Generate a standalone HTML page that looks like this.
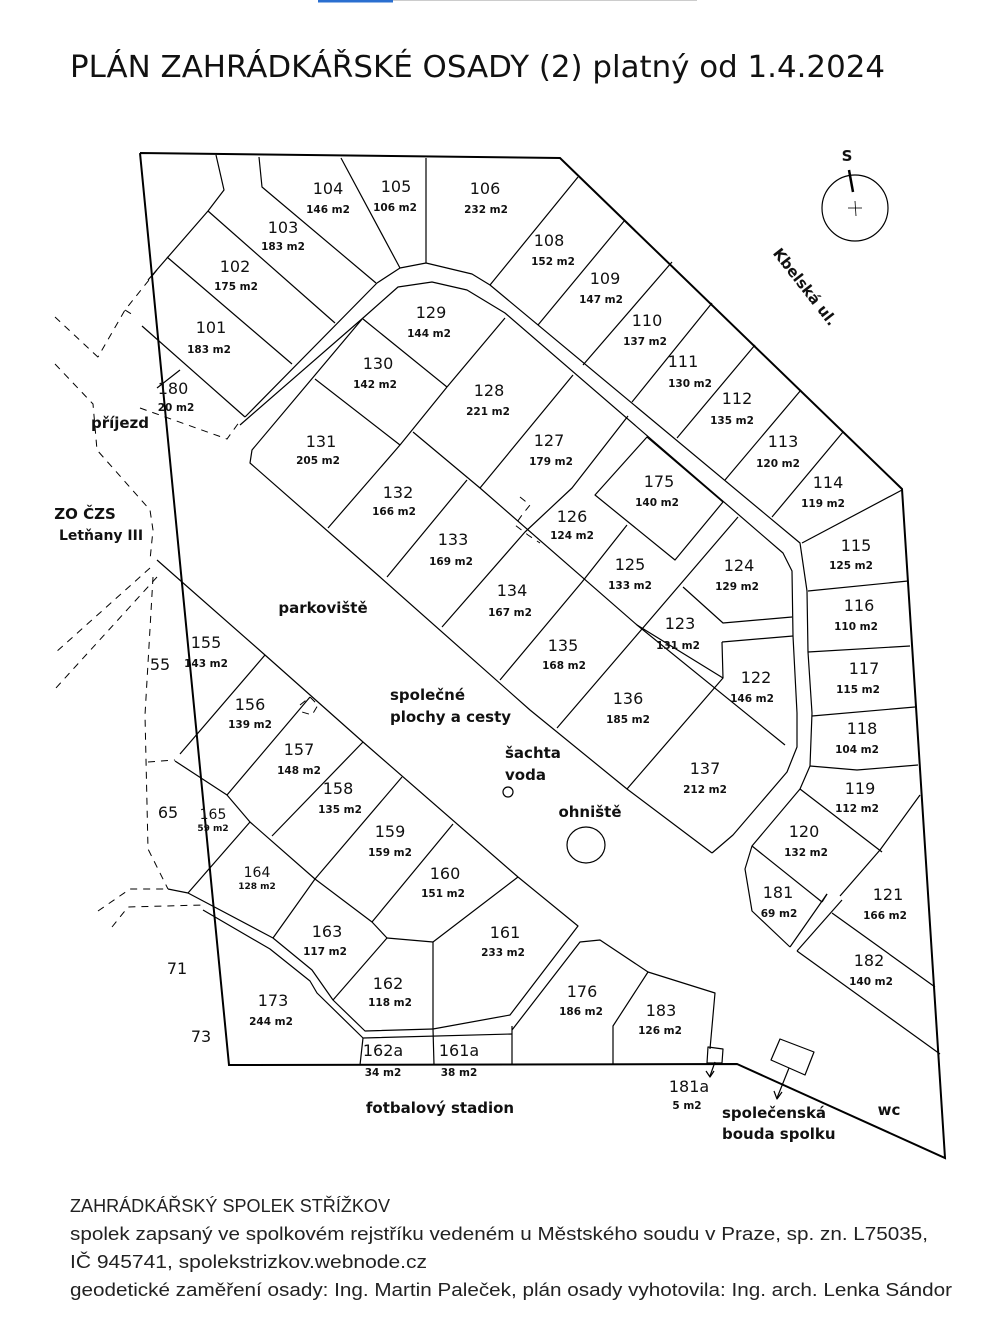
<!DOCTYPE html>
<html><head><meta charset="utf-8">
<style>
html,body{margin:0;padding:0;background:#fff;}
svg{display:block;}
text{font-family:"DejaVu Sans","Liberation Sans",sans-serif;fill:#111;}
.n{font-size:16px;text-anchor:middle;}
.a{font-size:10.5px;font-weight:bold;text-anchor:middle;}
.s{font-size:9px;font-weight:bold;text-anchor:middle;}
.l{font-size:15px;font-weight:bold;}
.f{font-family:"Liberation Sans",sans-serif;font-size:18px;fill:#222;}
</style></head><body>
<svg width="1008" height="1344" viewBox="0 0 1008 1344" xmlns="http://www.w3.org/2000/svg">
<line x1="318" y1="1" x2="393" y2="1" stroke="#2a6fd0" stroke-width="3"/>
<line x1="393" y1="0.5" x2="697" y2="0.5" stroke="#ccc" stroke-width="1"/>
<text x="70" y="77" style="font-size:30px" textLength="815" lengthAdjust="spacingAndGlyphs">PLÁN ZAHRÁDKÁŘSKÉ OSADY (2)  platný od 1.4.2024</text>

<g fill="none" stroke="#000" stroke-width="2">
<polyline points="140,153 560,158 902,489 945,1158 737,1064 229,1065 140,153"/>
</g>
<g fill="none" stroke="#000" stroke-width="1.2" stroke-linejoin="round">
<polyline points="216,155 224,190 208,211 148,280"/>
<polyline points="259,157 262,187 376,283"/>
<line x1="341" y1="158" x2="400" y2="268"/>
<line x1="426" y1="158" x2="426" y2="263"/>
<line x1="208" y1="211" x2="335" y2="323"/>
<line x1="167" y1="257" x2="292" y2="364"/>
<line x1="142" y1="326" x2="245" y2="417"/>
<polyline points="157,388 180,370"/>
<polyline points="245,417 377,283 400,268 426,263 472,274 490,285 800,543 807,591 808,652 812,713 810,766 800,789 752,846 745,869 752,911 790,947"/>
<polyline points="240,425 363,318 398,287 432,282 467,290 505,313 783,553 792,571 793,636 797,713 797,747 787,772 733,835 712,853"/>
<polyline points="363,318 252,450 250,463 380,577 530,710 627,789 712,853"/>
<line x1="578" y1="177" x2="490" y2="285"/>
<line x1="625" y1="220" x2="538" y2="325"/>
<line x1="672" y1="262" x2="583" y2="365"/>
<line x1="712" y1="303" x2="632" y2="402"/>
<line x1="755" y1="345" x2="677" y2="438"/>
<line x1="801" y1="390" x2="725" y2="480"/>
<line x1="843" y1="432" x2="772" y2="517"/>
<line x1="902" y1="490" x2="802" y2="543"/>
<line x1="808" y1="591" x2="908" y2="581"/>
<line x1="808" y1="652" x2="910" y2="646"/>
<line x1="812" y1="716" x2="915" y2="707"/>
<polyline points="810,766 857,770 918,765"/>
<line x1="800" y1="789" x2="882" y2="852"/>
<polyline points="920,795 880,850 840,896"/>
<line x1="752" y1="846" x2="822" y2="902"/>
<line x1="827" y1="894" x2="790" y2="947"/>
<line x1="842" y1="900" x2="797" y2="951"/>
<line x1="822" y1="902" x2="827" y2="894"/>
<line x1="832" y1="913" x2="935" y2="987"/>
<line x1="797" y1="951" x2="940" y2="1054"/>
<line x1="363" y1="319" x2="447" y2="387"/>
<line x1="505" y1="318" x2="447" y2="387"/>
<polyline points="447,387 400,445 328,528"/>
<line x1="315" y1="379" x2="400" y2="445"/>
<line x1="573" y1="375" x2="480" y2="488"/>
<line x1="467" y1="480" x2="387" y2="577"/>
<polyline points="413,432 480,488 637,625 723,678"/>
<polyline points="637,625 785,745"/>
<polyline points="442,627 525,532 572,488 628,416"/>
<polyline points="500,680 582,582 627,525"/>
<polyline points="557,728 630,643 738,517"/>
<polygon points="595,495 647,437 723,502 675,560"/>
<polyline points="683,587 723,623 792,617"/>
<polyline points="722,642 793,636"/>
<polyline points="722,642 723,678 627,789"/>
<polyline points="157,560 265,655 363,742 518,877 578,926 510,1015 433,1029"/>
<line x1="433" y1="942" x2="518" y2="877"/>
<line x1="433" y1="942" x2="433" y2="1029"/>
<line x1="387" y1="938" x2="433" y2="942"/>
<line x1="265" y1="655" x2="180" y2="754"/>
<line x1="310" y1="697" x2="227" y2="795"/>
<line x1="363" y1="742" x2="272" y2="836"/>
<line x1="402" y1="777" x2="315" y2="879"/>
<line x1="453" y1="824" x2="372" y2="922"/>
<polyline points="175,761 227,795 250,822 315,879 372,922 387,938"/>
<line x1="250" y1="822" x2="188" y2="893"/>
<line x1="315" y1="879" x2="273" y2="938"/>
<line x1="387" y1="938" x2="333" y2="1000"/>
<polyline points="168,889 188,893 273,938 312,970 333,1000 365,1031 433,1029"/>
<polyline points="203,910 270,949 310,981 317,993 363,1038 512,1034"/>
<line x1="363" y1="1038" x2="360" y2="1065"/>
<line x1="433" y1="1029" x2="434" y2="1065"/>
<line x1="512" y1="1026" x2="512" y2="1065"/>
<polyline points="512,1030 580,942 600,940 648,972 715,993 710,1049"/>
<polyline points="648,972 613,1026 613,1064"/>
<polygon points="708,1047 723,1049 722,1063 707,1063"/>
<line x1="715" y1="1062" x2="710" y2="1076"/>
<polyline points="706,1071 710,1077 714,1071"/>
<polygon points="780,1039 814,1052 805,1075 771,1060"/>
<line x1="789" y1="1068" x2="777" y2="1098"/>
<polyline points="774,1091 777,1099 782,1092"/>
<circle cx="508" cy="792" r="5"/>
<ellipse cx="586" cy="845" rx="19" ry="18"/>
<circle cx="855" cy="208" r="33"/>
<line x1="849" y1="170" x2="853" y2="192" stroke-width="2.5"/>
<line x1="848" y1="208" x2="862" y2="208" stroke-width="0.8"/>
<line x1="855" y1="201" x2="856" y2="216" stroke-width="0.8"/>
</g>
<g fill="none" stroke="#000" stroke-width="1" stroke-dasharray="7,6">
<polyline points="157,270 125,310 98,357"/>
<polyline points="125,310 133,315"/>
<polyline points="55,317 100,359"/>
<polyline points="55,364 93,404 97,450 150,510 153,530 150,560"/>
<polyline points="140,408 227,439 240,421"/>
<line x1="150" y1="568" x2="55" y2="653"/>
<line x1="157" y1="577" x2="55" y2="689"/>
<polyline points="153,577 145,715 148,849 168,889"/>
<polyline points="148,762 175,760"/>
<polyline points="98,911 130,889 168,889"/>
<polyline points="112,927 128,907 203,905"/>
<polyline points="300,705 310,697 318,705 312,715 302,712"/>
<polyline points="520,497 530,505 522,515 515,525 528,535 540,543"/>
</g>

<text class="n" x="328" y="194">104</text><text class="a" x="328" y="213">146 m2</text>
<text class="n" x="396" y="192">105</text><text class="a" x="395" y="211">106 m2</text>
<text class="n" x="485" y="194">106</text><text class="a" x="486" y="213">232 m2</text>
<text class="n" x="283" y="233">103</text><text class="a" x="283" y="250">183 m2</text>
<text class="n" x="235" y="272">102</text><text class="a" x="236" y="290">175 m2</text>
<text class="n" x="211" y="333">101</text><text class="a" x="209" y="353">183 m2</text>
<text class="n" x="549" y="246">108</text><text class="a" x="553" y="265">152 m2</text>
<text class="n" x="605" y="284">109</text><text class="a" x="601" y="303">147 m2</text>
<text class="n" x="647" y="326">110</text><text class="a" x="645" y="345">137 m2</text>
<text class="n" x="683" y="367">111</text><text class="a" x="690" y="387">130 m2</text>
<text class="n" x="737" y="404">112</text><text class="a" x="732" y="424">135 m2</text>
<text class="n" x="783" y="447">113</text><text class="a" x="778" y="467">120 m2</text>
<text class="n" x="828" y="488">114</text><text class="a" x="823" y="507">119 m2</text>
<text class="n" x="856" y="551">115</text><text class="a" x="851" y="569">125 m2</text>
<text class="n" x="859" y="611">116</text><text class="a" x="856" y="630">110 m2</text>
<text class="n" x="864" y="674">117</text><text class="a" x="858" y="693">115 m2</text>
<text class="n" x="862" y="734">118</text><text class="a" x="857" y="753">104 m2</text>
<text class="n" x="860" y="794">119</text><text class="a" x="857" y="812">112 m2</text>
<text class="n" x="804" y="837">120</text><text class="a" x="806" y="856">132 m2</text>
<text class="n" x="888" y="900">121</text><text class="a" x="885" y="919">166 m2</text>
<text class="n" x="869" y="966">182</text><text class="a" x="871" y="985">140 m2</text>
<text class="n" x="778" y="898">181</text><text class="a" x="779" y="917">69 m2</text>
<text class="n" x="431" y="318">129</text><text class="a" x="429" y="337">144 m2</text>
<text class="n" x="378" y="369">130</text><text class="a" x="375" y="388">142 m2</text>
<text class="n" x="489" y="396">128</text><text class="a" x="488" y="415">221 m2</text>
<text class="n" x="321" y="447">131</text><text class="a" x="318" y="464">205 m2</text>
<text class="n" x="549" y="446">127</text><text class="a" x="551" y="465">179 m2</text>
<text class="n" x="659" y="487">175</text><text class="a" x="657" y="506">140 m2</text>
<text class="n" x="398" y="498">132</text><text class="a" x="394" y="515">166 m2</text>
<text class="n" x="572" y="522">126</text><text class="a" x="572" y="539">124 m2</text>
<text class="n" x="739" y="571">124</text><text class="a" x="737" y="590">129 m2</text>
<text class="n" x="453" y="545">133</text><text class="a" x="451" y="565">169 m2</text>
<text class="n" x="630" y="570">125</text><text class="a" x="630" y="589">133 m2</text>
<text class="n" x="512" y="596">134</text><text class="a" x="510" y="616">167 m2</text>
<text class="n" x="680" y="629">123</text><text class="a" x="678" y="649">131 m2</text>
<text class="n" x="756" y="683">122</text><text class="a" x="752" y="702">146 m2</text>
<text class="n" x="563" y="651">135</text><text class="a" x="564" y="669">168 m2</text>
<text class="n" x="628" y="704">136</text><text class="a" x="628" y="723">185 m2</text>
<text class="n" x="705" y="774">137</text><text class="a" x="705" y="793">212 m2</text>
<text class="n" x="206" y="648">155</text><text class="a" x="206" y="667">143 m2</text>
<text class="n" x="250" y="710">156</text><text class="a" x="250" y="728">139 m2</text>
<text class="n" x="299" y="755">157</text><text class="a" x="299" y="774">148 m2</text>
<text class="n" x="338" y="794">158</text><text class="a" x="340" y="813">135 m2</text>
<text class="n" x="390" y="837">159</text><text class="a" x="390" y="856">159 m2</text>
<text class="n" x="213" y="819" style="font-size:14px">165</text><text class="s" x="213" y="831">59 m2</text>
<text class="n" x="257" y="877" style="font-size:14px">164</text><text class="s" x="257" y="889">128 m2</text>
<text class="n" x="445" y="879">160</text><text class="a" x="443" y="897">151 m2</text>
<text class="n" x="327" y="937">163</text><text class="a" x="325" y="955">117 m2</text>
<text class="n" x="505" y="938">161</text><text class="a" x="503" y="956">233 m2</text>
<text class="n" x="388" y="989">162</text><text class="a" x="390" y="1006">118 m2</text>
<text class="n" x="273" y="1006">173</text><text class="a" x="271" y="1025">244 m2</text>
<text class="n" x="582" y="997">176</text><text class="a" x="581" y="1015">186 m2</text>
<text class="n" x="661" y="1016">183</text><text class="a" x="660" y="1034">126 m2</text>
<text class="n" x="383" y="1056">162a</text><text class="a" x="383" y="1076">34 m2</text>
<text class="n" x="459" y="1056">161a</text><text class="a" x="459" y="1076">38 m2</text>
<text class="n" x="689" y="1092">181a</text><text class="a" x="687" y="1109">5 m2</text>
<text class="n" x="173" y="394">180</text><text class="a" x="176" y="411">20 m2</text>

<text class="l" x="120" y="428" text-anchor="middle">příjezd</text>
<text class="l" x="85" y="519" text-anchor="middle">ZO ČZS</text>
<text class="l" x="101" y="540" text-anchor="middle" style="font-size:14px">Letňany III</text>
<text class="l" x="323" y="613" text-anchor="middle">parkoviště</text>
<text class="l" x="390" y="700">společné</text>
<text class="l" x="390" y="722">plochy a cesty</text>
<text class="l" x="505" y="758">šachta</text>
<text class="l" x="505" y="780">voda</text>
<text class="l" x="590" y="817" text-anchor="middle">ohniště</text>
<text class="n" x="160" y="670">55</text>
<text class="n" x="168" y="818">65</text>
<text class="n" x="177" y="974">71</text>
<text class="n" x="201" y="1042">73</text>
<text class="l" x="440" y="1113" text-anchor="middle">fotbalový stadion</text>
<text class="l" x="722" y="1118">společenská</text>
<text class="l" x="722" y="1139">bouda spolku</text>
<text class="l" x="889" y="1115" text-anchor="middle">wc</text>
<text class="l" x="847" y="161" text-anchor="middle">S</text>
<text class="l" x="805" y="292" text-anchor="middle" transform="rotate(52 805 287)">Kbelská ul.</text>

<text class="f" x="70" y="1212" textLength="320" lengthAdjust="spacingAndGlyphs">ZAHRÁDKÁŘSKÝ SPOLEK STŘÍŽKOV</text>
<text class="f" x="70" y="1240" textLength="858" lengthAdjust="spacingAndGlyphs">spolek zapsaný ve spolkovém rejstříku vedeném u Městského soudu v Praze, sp. zn. L75035,</text>
<text class="f" x="70" y="1268" textLength="357" lengthAdjust="spacingAndGlyphs">IČ 945741, spolekstrizkov.webnode.cz</text>
<text class="f" x="70" y="1296" textLength="882" lengthAdjust="spacingAndGlyphs">geodetické zaměření  osady: Ing. Martin Paleček, plán osady vyhotovila: Ing. arch. Lenka Sándor</text>
</svg>
</body></html>
